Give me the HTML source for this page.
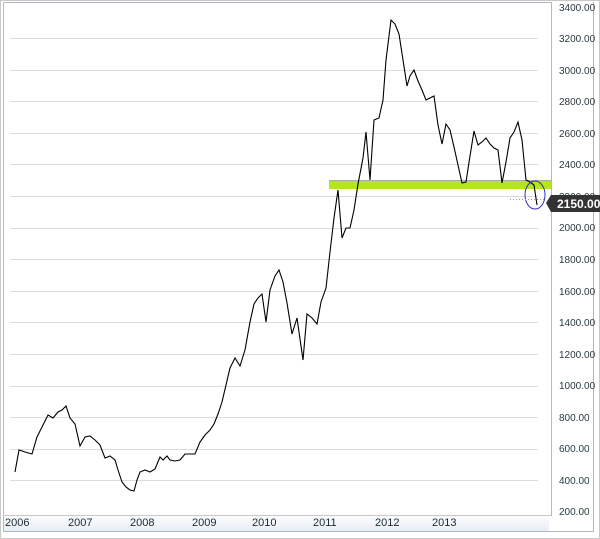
<!DOCTYPE html>
<html><head><style>
body{margin:0;background:#fff;}
svg{display:block;font-family:"Liberation Sans",Arial,sans-serif;}
</style></head><body>
<svg width="600" height="539" viewBox="0 0 600 539">
<rect x="0.5" y="0.5" width="599" height="538" fill="#fff" stroke="#c8c8c8"/>
<defs><linearGradient id="xa" x1="0" y1="0" x2="0" y2="1"><stop offset="0" stop-color="#fff"/><stop offset="1" stop-color="#e8eef6"/></linearGradient></defs>
<rect x="3" y="514" width="546" height="17" fill="url(#xa)"/>
<line x1="3" y1="531.5" x2="594" y2="531.5" stroke="#b0b8c4"/>
<line x1="3.5" y1="2" x2="3.5" y2="531" stroke="#b0b8c4"/>
<line x1="3" y1="2.5" x2="551" y2="2.5" stroke="#b0b8c4"/>
<line x1="551.5" y1="2" x2="551.5" y2="516" stroke="#b0b8c4"/>
<line x1="593.5" y1="2" x2="593.5" y2="531" stroke="#b0b8c4"/>
<line x1="3" y1="515.5" x2="551" y2="515.5" stroke="#c8c8c8"/>
<g stroke="#dcdcdc" stroke-width="1">
<line x1="10" x2="538" y1="38.5" y2="38.5"/><line x1="10" x2="538" y1="70.5" y2="70.5"/>
<line x1="10" x2="538" y1="101.5" y2="101.5"/><line x1="10" x2="538" y1="133.5" y2="133.5"/>
<line x1="10" x2="538" y1="164.5" y2="164.5"/><line x1="10" x2="538" y1="196.5" y2="196.5"/>
<line x1="10" x2="538" y1="228.5" y2="228.5"/><line x1="10" x2="538" y1="259.5" y2="259.5"/>
<line x1="10" x2="538" y1="291.5" y2="291.5"/><line x1="10" x2="538" y1="322.5" y2="322.5"/>
<line x1="10" x2="538" y1="354.5" y2="354.5"/><line x1="10" x2="538" y1="386.5" y2="386.5"/>
<line x1="10" x2="538" y1="417.5" y2="417.5"/><line x1="10" x2="538" y1="449.5" y2="449.5"/>
<line x1="10" x2="538" y1="480.5" y2="480.5"/>
</g>
<g font-size="10" fill="#2a3a40">
<text x="559" y="11">3400.00</text><text x="559" y="42">3200.00</text><text x="559" y="74">3000.00</text>
<text x="559" y="105">2800.00</text><text x="559" y="137">2600.00</text><text x="559" y="168">2400.00</text>
<text x="559" y="200">2200.00</text><text x="559" y="231">2000.00</text><text x="559" y="263">1800.00</text>
<text x="559" y="295">1600.00</text><text x="559" y="326">1400.00</text><text x="559" y="358">1200.00</text>
<text x="559" y="389">1000.00</text><text x="559" y="421">800.00</text><text x="559" y="452">600.00</text>
<text x="559" y="484">400.00</text><text x="559" y="515">200.00</text>
</g>
<g font-size="11" fill="#1a2a30">
<text x="5" y="526">2006</text><text x="68" y="526">2007</text><text x="130" y="526">2008</text>
<text x="192" y="526">2009</text><text x="252" y="526">2010</text><text x="313" y="526">2011</text>
<text x="375" y="526">2012</text><text x="432" y="526">2013</text>
</g>
<rect x="329" y="180" width="222" height="9" fill="#b5e61d"/>
<line x1="329" y1="180.5" x2="551" y2="180.5" stroke="#aaa"/>
<polyline fill="none" stroke="#000" stroke-width="1.1" points="15,472 19,450 25,452 32,454 37,437 43,425 48,415 53,418 58,412 62,410 66,406 70,418 75,424 80,446 85,437 90,436 95,440 100,445 105,458 110,456 115,460 118,470 122,482 126,487 130,490 134,491 137,480 140,472 145,470 150,472 155,469 160,457 163,460 167,456 170,460 175,461 180,460 185,454 190,454 195,454 200,442 205,435 210,430 214,424 218,414 222,402 226,385 230,368 235,358 240,366 245,350 250,322 254,304 258,298 262,294 266,322 270,290 275,276 279,270 283,282 287,303 292,334 297,318 303,360 307,314 312,318 317,324 321,302 326,288 330,252 334,218 338,190 342,238 346,228 350,228 354,210 358,184 363,158 366,132 370,180 374,120 379,118 383,100 386,60 391,20 395,24 399,34 403,60 407,86 410,76 414,70 418,81 422,90 426,100 430,98 434,96 438,125 442,144 446,124 450,130 454,147 458,165 462,183 466,182 470,156 474,131 478,145 482,142 486,138 490,144 494,148 498,150 502,183 506,162 510,138 514,132 518,122 522,140 526,180 530,182 534,185 537,205"/>
<ellipse cx="535" cy="195" rx="10" ry="14" fill="none" stroke="#3030c0"/>
<line x1="510" y1="199.5" x2="546" y2="199.5" stroke="#999" stroke-dasharray="1,2"/>
<path d="M546,203 L551,195 L600,195 L600,212 L551,212 Z" fill="#333"/>
<text x="557" y="208" font-size="12" font-weight="bold" fill="#fff">2150.00</text>
</svg>
</body></html>
